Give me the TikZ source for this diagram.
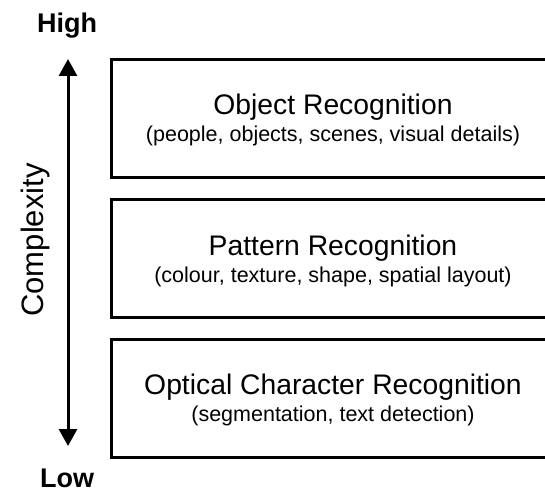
\documentclass[tikz,border=0pt]{standalone}
\usepackage{fontspec}
\setmainfont{Liberation Sans}
\usetikzlibrary{arrows.meta}
\tikzset{
  layerbox/.style={draw=black, line width=2.6pt, minimum width=446pt, minimum height=118pt, inner sep=0pt, anchor=north west},
  titletext/.style={font=\fontsize{28.3}{31}\selectfont, anchor=base, inner sep=0pt},
  subtext/.style={font=\fontsize{21.5}{24}\selectfont, anchor=base, inner sep=0pt},
  endlabel/.style={font=\fontsize{27}{30}\selectfont\bfseries, anchor=base, inner sep=0pt},
  axis/.style={line width=3pt, {Triangle[width=18pt,length=17pt]}-{Triangle[width=18pt,length=17pt]}}
}
\begin{document}
\begin{tikzpicture}[x=1pt,y=-1pt]
\useasboundingbox (0,0) rectangle (545,494);
\clip (0,0) rectangle (545,494);
\node[layerbox] (obj) at (110,58) {};
\node[layerbox] (pat) at (110,198) {};
\node[layerbox] (ocr) at (110,338) {};
\node[titletext] (objt) at (333,115) {Object Recognition};
\node[subtext] (objs) at (333,142) {(people, objects, scenes, visual details)};
\node[titletext] (patt) at (333,255) {Pattern Recognition};
\node[subtext] (pats) at (333,282) {(colour, texture, shape, spatial layout)};
\node[titletext] (ocrt) at (333,394) {Optical Character Recognition};
\node[subtext] (ocrs) at (333,421) {(segmentation, text detection)};
\coordinate (top) at (68,59);
\coordinate (bot) at (68,446);
\draw[axis] (bot) -- (top);
\node[endlabel] (high) at (67,33) {High};
\node[endlabel] (low) at (67,487) {Low};
\node[font=\fontsize{31}{34}\selectfont, rotate=90, anchor=base, inner sep=0pt] (cx) at (43,240) {Complexity};
\end{tikzpicture}
\end{document}
